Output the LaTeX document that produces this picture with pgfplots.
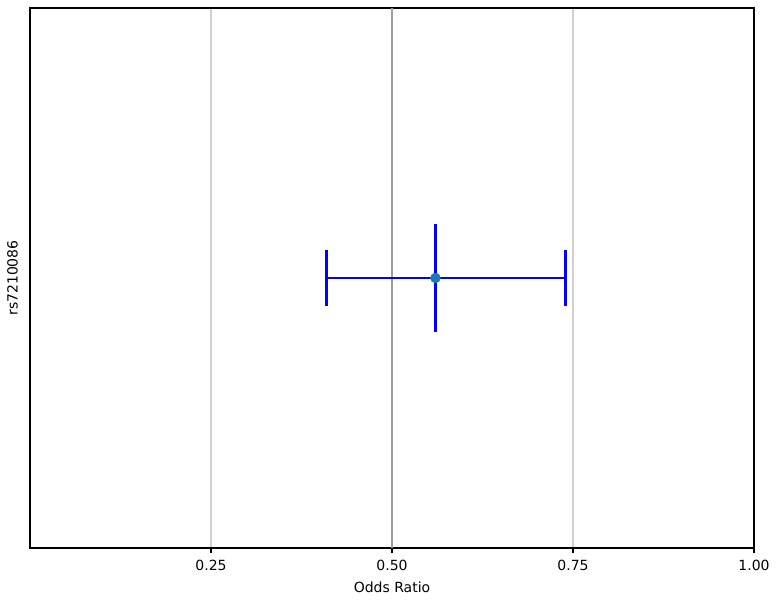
\documentclass[border=0pt]{standalone}
\usepackage{pgfplots}
\pgfplotsset{compat=1.18}
\usepackage{fontspec}
\setmainfont{DejaVu Sans}
\definecolor{mplblue}{HTML}{1F77B4}
\begin{document}
\begin{tikzpicture}
\useasboundingbox (-22.5pt,-42pt) rectangle (562.5pt,411pt);
\begin{axis}[
  at={(0,0)}, anchor=south west,
  scale only axis, width=543pt, height=405pt,
  xmin=0, xmax=1, ymin=-1, ymax=1,
  xtick={0.25,0.5,0.75,1.0},
  ytick=\empty,
  xticklabel style={/pgf/number format/fixed, /pgf/number format/fixed zerofill, /pgf/number format/precision=2, /pgf/number format/assume math mode=true, yshift=-2pt},
  tick label style={font=\fontsize{10.5}{12.5}\selectfont},
  label style={font=\fontsize{10.5}{12.5}\selectfont},
  xtick pos=bottom, tick align=outside,
  major tick length=3.5pt,
  xmajorgrids, major grid style={color=black!18, line width=0.8pt},
  axis line style={line width=0.9pt},
  every tick/.style={black, line width=0.8pt},
  xlabel={Odds Ratio},
  ylabel={rs7210086},
  xlabel style={at={(axis description cs:0.5,0)}, anchor=north, yshift=-22pt},
  ylabel style={at={(axis description cs:-0.024,0.5)}, anchor=center},
  clip=false,
]
\addplot[black!38, line width=0.8pt] coordinates {(0.5,-1) (0.5,1)};
\addplot[draw=blue, line width=2.2pt, mark=none] coordinates {(0.41,0) (0.56,0) (0.74,0)};
\addplot[draw=blue, line width=2.2pt, mark=none] coordinates {(0.56,-0.2) (0.56,0.2)};
\addplot[draw=blue, line width=2.2pt, mark=none] coordinates {(0.41,-0.103) (0.41,0.103)};
\addplot[draw=blue, line width=2.2pt, mark=none] coordinates {(0.74,-0.103) (0.74,0.103)};
\addplot[only marks, mark=*, mark size=3.7pt, mark options={fill=mplblue, draw=mplblue}]
  coordinates {(0.56,0)};
\end{axis}
\end{tikzpicture}
\end{document}
